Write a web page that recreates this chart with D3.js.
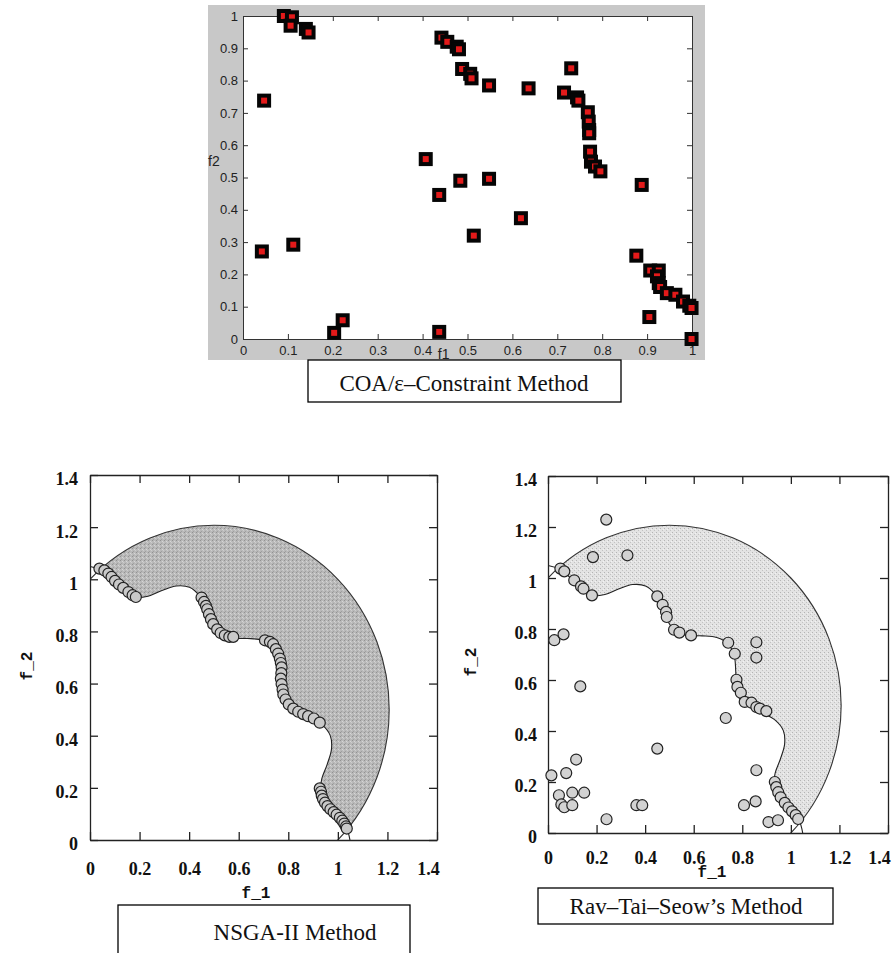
<!DOCTYPE html>
<html><head><meta charset="utf-8">
<script src="https://cdn.jsdelivr.net/npm/d3@7/dist/d3.min.js"></script>
<style>body{margin:0;background:#fff}svg{display:block}</style>
</head><body>
<svg id="c" width="893" height="953"></svg>
<script>
// ---------- DATA ----------
const coaF1 = [0.091,0.109,0.106,0.140,0.146,0.047,0.042,0.112,0.203,0.222,0.442,0.455,0.476,0.481,0.488,0.506,0.509,0.548,0.636,0.407,0.437,0.484,0.548,0.619,0.514,0.437,0.731,0.715,0.744,0.747,0.768,0.770,0.771,0.771,0.773,0.775,0.784,0.796,0.888,0.876,0.907,0.926,0.922,0.926,0.929,0.944,0.963,0.980,0.994,0.999,0.905,0.999];
const coaF2 = [1.000,0.996,0.970,0.960,0.949,0.738,0.271,0.292,0.019,0.058,0.933,0.920,0.905,0.897,0.836,0.821,0.807,0.785,0.776,0.557,0.446,0.490,0.496,0.374,0.320,0.022,0.838,0.763,0.748,0.738,0.702,0.673,0.647,0.637,0.580,0.549,0.534,0.519,0.477,0.258,0.212,0.212,0.194,0.173,0.161,0.142,0.137,0.116,0.103,0.096,0.068,0.000];

const nsgaF1 = [0.038,0.058,0.074,0.087,0.101,0.117,0.134,0.155,0.172,0.185,0.450,0.460,0.468,0.473,0.480,0.488,0.497,0.513,0.527,0.544,0.562,0.578,0.706,0.726,0.739,0.750,0.759,0.766,0.770,0.773,0.772,0.770,0.773,0.777,0.780,0.789,0.802,0.820,0.840,0.860,0.880,0.903,0.927,0.927,0.932,0.935,0.940,0.948,0.958,0.970,0.983,0.995,1.008,1.018,1.026,1.033,1.036];
const nsgaF2 = [1.041,1.034,1.022,1.009,0.994,0.980,0.967,0.951,0.939,0.932,0.930,0.913,0.898,0.885,0.866,0.847,0.828,0.808,0.794,0.785,0.779,0.779,0.766,0.760,0.751,0.732,0.715,0.696,0.679,0.662,0.640,0.619,0.598,0.577,0.558,0.539,0.520,0.504,0.492,0.483,0.475,0.466,0.450,0.198,0.185,0.170,0.157,0.143,0.130,0.118,0.107,0.097,0.085,0.074,0.063,0.052,0.044];

const ravF1 = [0.240,0.185,0.327,0.051,0.067,0.108,0.136,0.146,0.181,0.450,0.472,0.486,0.489,0.519,0.541,0.589,0.742,0.769,0.858,0.858,0.026,0.064,0.133,0.776,0.780,0.794,0.810,0.838,0.858,0.872,0.899,0.732,0.450,0.116,0.075,0.014,0.045,0.100,0.149,0.858,0.934,0.940,0.948,0.958,0.975,0.990,1.005,1.020,1.030,0.055,0.067,0.100,0.241,0.364,0.388,0.807,0.855,0.908,0.947];
const ravF2 = [1.229,1.082,1.089,1.037,1.026,0.991,0.967,0.958,0.932,0.928,0.895,0.867,0.847,0.797,0.786,0.775,0.746,0.703,0.748,0.688,0.756,0.779,0.575,0.601,0.573,0.550,0.514,0.511,0.494,0.488,0.478,0.451,0.331,0.288,0.235,0.226,0.148,0.158,0.158,0.246,0.200,0.180,0.160,0.140,0.118,0.100,0.085,0.070,0.055,0.112,0.101,0.109,0.054,0.109,0.109,0.109,0.124,0.043,0.050];

// inner (wavy) boundary of the feasible region
const boundaryF1 = [0,0.0508,0.0980,0.1414,0.1851,0.2342,0.2903,0.3486,0.4014,0.4424,0.4714,0.4956,0.5271,0.5743,0.6344,0.6949,0.7416,0.7667,0.7730,0.7743,0.7888,0.8269,0.8819,0.9354,0.9690,0.9743,0.9569,0.9351,0.9305,0.9536,0.9952,1.0335,1.0488];
const boundaryF2 = [1.0488,1.0335,0.9952,0.9536,0.9305,0.9351,0.9569,0.9743,0.9690,0.9354,0.8819,0.8269,0.7888,0.7743,0.7730,0.7667,0.7416,0.6949,0.6344,0.5743,0.5271,0.4956,0.4714,0.4424,0.4014,0.3486,0.2903,0.2342,0.1851,0.1414,0.0980,0.0508,0];
// outer circular boundary
const circleCenter = [0.5, 0.5];
const circleRadius = 0.7071;

const topTicks = [0,0.1,0.2,0.3,0.4,0.5,0.6,0.7,0.8,0.9,1];
const topTickLabels = ["0","0.1","0.2","0.3","0.4","0.5","0.6","0.7","0.8","0.9","1"];
const bottomTicks = [0,0.2,0.4,0.6,0.8,1,1.2,1.4];
const bottomTickLabels = ["0","0.2","0.4","0.6","0.8","1","1.2","1.4"];
const captions = ["COA/\u03b5\u2013Constraint Method","NSGA-II Method","Rav\u2013Tai\u2013Seow\u2019s Method"];

// ---------- DRAW ----------
const svg = d3.select("#c");
const defs = svg.append("defs");

function pattern(id, base, dots){
  const p = defs.append("pattern").attr("id",id).attr("patternUnits","userSpaceOnUse").attr("width",4).attr("height",4);
  p.append("rect").attr("width",4).attr("height",4).attr("fill",base);
  dots.forEach(d=>p.append("rect").attr("x",d[0]).attr("y",d[1]).attr("width",1).attr("height",1).attr("fill",d[2]));
}
pattern("texA","#b9b9b9",[[0,0,"#929292"],[2,1,"#d6d6d6"],[1,3,"#a0a0a0"],[3,2,"#cdcdcd"]]);
pattern("texB","#e3e3e3",[[0,0,"#b4b4b4"],[2,2,"#c2c2c2"],[3,1,"#f2f2f2"]]);

// ---- top panel (COA) ----
const T = {x0:243,x1:692,y0:339,y1:16};
svg.append("rect").attr("x",208).attr("y",5).attr("width",497).attr("height",355).attr("fill","#c8c8c8");
svg.append("rect").attr("x",T.x0).attr("y",T.y1).attr("width",T.x1-T.x0).attr("height",T.y0-T.y1).attr("fill","#fff");
const xT = d3.scaleLinear().domain([0,1]).range([T.x0,T.x1]);
const yT = d3.scaleLinear().domain([0,1]).range([T.y0,T.y1]);
const tfmt = d=>topTickLabels[topTicks.indexOf(d)];
function styleTop(g){
  g.selectAll("path,line").attr("stroke","#333").attr("stroke-width",1);
  g.selectAll("text").attr("font-family","Liberation Sans, Arial, sans-serif").attr("font-size",13).attr("fill","#222");
}
svg.append("g").attr("transform",`translate(0,${T.y0})`).call(d3.axisBottom(xT).tickValues(topTicks).tickFormat(tfmt).tickSizeInner(-5).tickSizeOuter(0).tickPadding(7)).call(styleTop);
svg.append("g").attr("transform",`translate(${T.x0},0)`).call(d3.axisLeft(yT).tickValues(topTicks).tickFormat(tfmt).tickSizeInner(-5).tickSizeOuter(0).tickPadding(5)).call(styleTop);
svg.append("g").attr("transform",`translate(0,${T.y1})`).call(d3.axisTop(xT).tickValues(topTicks).tickFormat("").tickSizeInner(-5).tickSizeOuter(0)).call(styleTop);
svg.append("g").attr("transform",`translate(${T.x1},0)`).call(d3.axisRight(yT).tickValues(topTicks).tickFormat("").tickSizeInner(-5).tickSizeOuter(0)).call(styleTop);
svg.append("text").attr("x",xT(0.447)).attr("y",T.y0+20).attr("text-anchor","middle").attr("font-family","Liberation Sans, Arial, sans-serif").attr("font-size",14).attr("fill","#222").text("f1");
svg.append("text").attr("x",208).attr("y",yT(0.55)+5).attr("font-family","Liberation Sans, Arial, sans-serif").attr("font-size",14).attr("fill","#222").text("f2");

const coa = coaF1.map((v,i)=>({f1:v,f2:coaF2[i]}));
const mk = svg.append("g").selectAll("g").data(coa).join("g").attr("transform",d=>`translate(${xT(d.f1)},${yT(d.f2)})`);
mk.append("rect").attr("x",-7).attr("y",-7).attr("width",14).attr("height",14).attr("fill","#050505");
mk.append("rect").attr("x",-3).attr("y",-3).attr("width",6).attr("height",6).attr("fill","#e31a1a");

// caption boxes
function caption(x,y,w,h,tx,ty,txt){
  svg.append("rect").attr("x",x).attr("y",y).attr("width",w).attr("height",h).attr("fill","#fff").attr("stroke","#000").attr("stroke-width",1.3);
  svg.append("text").attr("x",tx).attr("y",ty).attr("text-anchor","middle").attr("font-family","Liberation Serif, Times New Roman, serif").attr("font-size",23).attr("fill","#111").text(txt);
}
caption(308,360,313,42,464,391,captions[0]);

// ---- bottom panels ----
const boundary = boundaryF1.map((v,i)=>[v,boundaryF2[i]]);
function panel(c){
  const x = d3.scaleLinear().domain([0,1.4]).range([c.x0,c.x1]);
  const y = d3.scaleLinear().domain([0,1.4]).range([c.y0,c.y1]);
  defs.append("clipPath").attr("id",c.id+"plot").append("rect").attr("x",c.x0).attr("y",c.y1).attr("width",c.x1-c.x0).attr("height",c.y0-c.y1);
  defs.append("clipPath").attr("id",c.id+"circ").append("ellipse")
    .attr("cx",x(circleCenter[0])).attr("cy",y(circleCenter[1]))
    .attr("rx",x(circleCenter[0]+circleRadius)-x(circleCenter[0]))
    .attr("ry",y(circleCenter[1])-y(circleCenter[1]+circleRadius));
  const g = svg.append("g");
  const line = d3.line().x(d=>x(d[0])).y(d=>y(d[1])).curve(d3.curveCatmullRom);
  const outside = line(boundary)+`L${x(1.4)},${y(0)}L${x(1.4)},${y(1.4)}L${x(0)},${y(1.4)}Z`;
  g.append("path").attr("d",outside).attr("fill",`url(#${c.tex})`).attr("clip-path",`url(#${c.id}circ)`);
  const pg = g.append("g").attr("clip-path",`url(#${c.id}plot)`);
  pg.append("ellipse")
    .attr("cx",x(circleCenter[0])).attr("cy",y(circleCenter[1]))
    .attr("rx",x(circleCenter[0]+circleRadius)-x(circleCenter[0]))
    .attr("ry",y(circleCenter[1])-y(circleCenter[1]+circleRadius))
    .attr("fill","none").attr("stroke","#333").attr("stroke-width",1.1);
  pg.append("path").attr("d",line(boundary)).attr("fill","none").attr("stroke","#222").attr("stroke-width",1.1);

  const fmt = d=>bottomTickLabels[bottomTicks.indexOf(d)];
  const st = s=>{
    s.selectAll("path,line").attr("stroke","#222").attr("stroke-width",1.3);
    s.selectAll("text").attr("font-family","Liberation Serif, Times New Roman, serif").attr("font-weight","bold").attr("font-size",18).attr("fill","#111");
  };
  const xa = g.append("g").attr("transform",`translate(0,${c.y0})`).call(d3.axisBottom(x).tickValues(bottomTicks).tickFormat(fmt).tickSizeInner(-8).tickSizeOuter(0).tickPadding(c.xpad)).call(st);
  xa.selectAll(".tick text").filter(d=>d===1.4).attr("dx",-9);
  g.append("g").attr("transform",`translate(${c.x0},0)`).call(d3.axisLeft(y).tickValues(bottomTicks).tickFormat(fmt).tickSizeInner(-8).tickSizeOuter(0).tickPadding(c.ypad)).call(st)
    .selectAll("text").attr("dy","0.55em");
  g.append("g").attr("transform",`translate(0,${c.y1})`).call(d3.axisTop(x).tickValues(bottomTicks).tickFormat("").tickSizeInner(-8).tickSizeOuter(0)).call(st);
  g.append("g").attr("transform",`translate(${c.x1},0)`).call(d3.axisRight(y).tickValues(bottomTicks).tickFormat("").tickSizeInner(-8).tickSizeOuter(0)).call(st);

  const pts = c.f1.map((v,i)=>[v,c.f2[i]]);
  g.append("g").selectAll("circle").data(pts).join("circle")
    .attr("cx",d=>x(d[0])).attr("cy",d=>y(d[1])).attr("r",5.5)
    .attr("fill",c.mfill).attr("stroke","#222").attr("stroke-width",1.2);

  svg.append("text").attr("x",c.f1x).attr("y",c.f1y).attr("text-anchor","middle").attr("font-family","Liberation Mono, Courier New, monospace").attr("font-weight","bold").attr("font-size",16).attr("fill","#111").text("f_1");
  svg.append("text").attr("transform",`translate(${c.f2x},${c.f2y}) rotate(-90)`).attr("text-anchor","middle").attr("font-family","Liberation Mono, Courier New, monospace").attr("font-weight","bold").attr("font-size",16).attr("fill","#111").text("f_2");
}
panel({id:"n",x0:90,x1:437,y0:840,y1:475,tex:"texA",mfill:"#c9c9c9",xpad:22,ypad:12,f1:nsgaF1,f2:nsgaF2,f1x:256,f1y:898,f2x:32,f2y:666});
panel({id:"r",x0:548,x1:888,y0:833,y1:476,tex:"texB",mfill:"#d2d2d2",xpad:18,ypad:11,f1:ravF1,f2:ravF2,f1x:712,f1y:877,f2x:476,f2y:662});

caption(118,905,292,60,295,940,captions[1]);
caption(538,888,295,36,686,914,captions[2]);
</script>
</body></html>
